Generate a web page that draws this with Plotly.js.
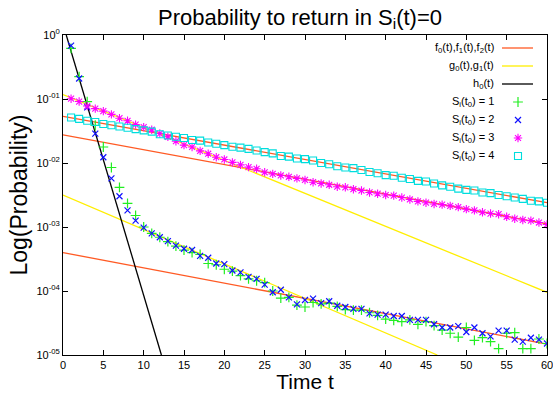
<!DOCTYPE html>
<html>
<head>
<meta charset="utf-8">
<script src="https://cdn.plot.ly/plotly-3.0.1.min.js"></script>
<style>html,body{margin:0;padding:0;background:#fff}#chart{width:553px;height:393px}</style>
</head>
<body>
<div id="chart"></div>
<script>
// ---- data (log10 of probability) ----
const tPoints = Array.from({length: 60}, (_, i) => i + 1);

const s1Log10 = [-0.21,-0.65,-1.04,-1.41,-1.75,-2.07,-2.38,-2.63,-2.82,-3.00,
  -3.10,-3.16,-3.23,-3.30,-3.36,-3.40,-3.43,-3.57,-3.59,-3.66,
  -3.69,-3.76,-3.81,-3.84,-3.87,-4.00,-4.11,-4.10,-4.22,-4.25,
  -4.18,-4.20,-4.19,-4.24,-4.29,-4.30,-4.30,-4.34,-4.38,-4.44,
  -4.46,-4.48,-4.45,-4.52,-4.48,-4.54,-4.61,-4.66,-4.72,-4.57,
  -4.77,-4.73,-4.79,-4.90,-4.66,-4.65,-4.90,-4.90,-4.75,-4.82];

const s2Log10 = [-0.167,-0.68,-1.13,-1.54,-1.91,-2.24,-2.52,-2.74,-2.90,-3.01,
  -3.10,-3.16,-3.22,-3.29,-3.34,-3.36,-3.45,-3.48,-3.57,-3.58,
  -3.68,-3.71,-3.78,-3.81,-3.90,-4.02,-3.98,-4.10,-4.21,-4.14,
  -4.12,-4.19,-4.16,-4.23,-4.25,-4.28,-4.28,-4.35,-4.37,-4.37,
  -4.39,-4.39,-4.45,-4.45,-4.45,-4.52,-4.57,-4.57,-4.55,-4.64,
  -4.57,-4.66,-4.71,-4.62,-4.62,-4.76,-4.79,-4.73,-4.76,-4.82];

const s3Log10 = [-0.995,-1.04,-1.11,-1.15,-1.19,-1.24,-1.30,-1.34,-1.40,-1.44,
  -1.48,-1.54,-1.59,-1.66,-1.72,-1.75,-1.81,-1.855,-1.91,-1.945,
  -1.99,-2.03,-2.065,-2.09,-2.145,-2.17,-2.195,-2.215,-2.24,-2.265,
  -2.30,-2.32,-2.34,-2.37,-2.38,-2.41,-2.43,-2.46,-2.48,-2.50,
  -2.51,-2.54,-2.57,-2.60,-2.62,-2.64,-2.65,-2.67,-2.69,-2.72,
  -2.74,-2.77,-2.79,-2.80,-2.84,-2.87,-2.89,-2.90,-2.93,-2.96];

const s4Log10 = [-1.29,-1.31,-1.34,-1.36,-1.39,-1.41,-1.43,-1.45,-1.47,-1.49,
  -1.51,-1.55,-1.57,-1.59,-1.61,-1.64,-1.65,-1.68,-1.70,-1.72,
  -1.745,-1.76,-1.78,-1.805,-1.83,-1.85,-1.89,-1.90,-1.93,-1.94,
  -1.96,-2.00,-2.02,-2.05,-2.07,-2.08,-2.11,-2.14,-2.16,-2.19,
  -2.20,-2.23,-2.25,-2.28,-2.29,-2.32,-2.35,-2.37,-2.40,-2.42,
  -2.43,-2.46,-2.47,-2.50,-2.52,-2.54,-2.56,-2.59,-2.60,-2.62];

// fitted lines: end points (t, log10 p)
const f0T = [0, 60], f0Log10 = [-3.40, -4.83];
const f1T = [0, 60], f1Log10 = [-1.56, -2.95];
const f2T = [0, 60], f2Log10 = [-1.27, -2.62];
const g0T = [0, 60], g0Log10 = [-0.93, -4.02];
const g1T = [0, 46.4], g1Log10 = [-2.50, -5.00];
const h0T = [0.4, 12.2], h0Log10 = [0.0, -5.00];

const xTicks = [0,5,10,15,20,25,30,35,40,45,50,55,60];
const yTickVals = [1, 0.1, 0.01, 0.001, 0.0001, 0.00001];
const yTickText = ['10<sup>0</sup>','10<sup>-01</sup>','10<sup>-02</sup>','10<sup>-03</sup>','10<sup>-04</sup>','10<sup>-05</sup>'];

const legendLabels = ['f<sub>0</sub>(t),f<sub>1</sub>(t),f<sub>2</sub>(t)',
  'g<sub>0</sub>(t),g<sub>1</sub>(t)', 'h<sub>0</sub>(t)',
  'S<sub>i</sub>(t<sub>0</sub>) = 1','S<sub>i</sub>(t<sub>0</sub>) = 2',
  'S<sub>i</sub>(t<sub>0</sub>) = 3','S<sub>i</sub>(t<sub>0</sub>) = 4'];

// ---- styles ----
const FONT = 'Liberation Sans, Arial, Helvetica, sans-serif';
const cF = '#ff5a24', cG = '#ffee00', cH = '#000000';
const cS1 = '#22ee22', cS2 = '#1010ff', cS3 = '#ff00ff', cS4 = '#00dddd';
const pow = a => a.map(v => Math.pow(10, v));

function lineTrace(t, l, color) {
  return {x: t, y: pow(l), mode: 'lines', line: {color: color, width: 1.3}, hoverinfo: 'skip', showlegend: false};
}
const mk = {
  s1: {symbol: 'cross-thin', size: 7, color: cS1, line: {color: cS1, width: 1.2}},
  s2: {symbol: 'x-thin', size: 6, color: cS2, line: {color: cS2, width: 1.2}},
  s3: {symbol: 'asterisk', size: 7, color: cS3, line: {color: cS3, width: 1.1}},
  s4: {symbol: 'square-open', size: 7, color: cS4, line: {color: cS4, width: 1.1}}
};
function ptTrace(l, m) {
  return {x: tPoints, y: pow(l), mode: 'markers', marker: m, showlegend: false};
}

const traces = [
  lineTrace(f0T, f0Log10, cF), lineTrace(f1T, f1Log10, cF), lineTrace(f2T, f2Log10, cF),
  lineTrace(g0T, g0Log10, cG), lineTrace(g1T, g1Log10, cG),
  lineTrace(h0T, h0Log10, cH),
  ptTrace(s1Log10, mk.s1), ptTrace(s2Log10, mk.s2), ptTrace(s3Log10, mk.s3), ptTrace(s4Log10, mk.s4)
];

// ---- manual gnuplot-style legend (text right, sample on the right) ----
const L = 63, R = 547, T = 35, B = 355;
const px = x => (x - L) / (R - L);
const py = y => (B - y) / (B - T);
const rowY = [48, 66, 84, 102, 120, 138, 156];
const sampleColors = [cF, cG, cH];
for (let i = 0; i < 3; i++) {
  traces.push({x: [px(502), px(533)], y: [py(rowY[i]), py(rowY[i])], xaxis: 'x2', yaxis: 'y2',
    mode: 'lines', line: {color: sampleColors[i], width: 1.3}, showlegend: false, hoverinfo: 'skip'});
}
const mks = [mk.s1, mk.s2, mk.s3, mk.s4];
for (let i = 0; i < 4; i++) {
  traces.push({x: [px(518)], y: [py(rowY[i + 3])], xaxis: 'x2', yaxis: 'y2',
    mode: 'markers', marker: mks[i], showlegend: false, hoverinfo: 'skip'});
}
const annotations = legendLabels.map((txt, i) => ({
  text: txt, xref: 'paper', yref: 'paper', x: px(496), y: py(rowY[i]),
  xanchor: 'right', yanchor: 'middle', showarrow: false,
  font: {family: FONT, size: 11, color: '#000'}
}));

const layout = {
  width: 553, height: 393,
  margin: {l: L, r: 553 - R, t: T, b: 393 - B},
  paper_bgcolor: '#fff', plot_bgcolor: '#fff',
  showlegend: false,
  font: {family: FONT, color: '#000'},
  title: {text: 'Probability to return in S<sub>i</sub>(t)=0', font: {family: FONT, size: 22, color: '#000'},
    x: 300 / 553, xanchor: 'center', xref: 'container', y: 1 - 17 / 393, yanchor: 'middle', yref: 'container'},
  xaxis: {
    range: [0, 60], tickvals: xTicks, ticktext: xTicks.map(String),
    ticks: 'inside', ticklen: 5, tickwidth: 1, tickcolor: '#000',
    showline: true, linecolor: '#000', linewidth: 1, mirror: 'ticks',
    showgrid: false, zeroline: false, ticklabeloverflow: 'allow',
    tickfont: {family: FONT, size: 11, color: '#000'},
    title: {text: 'Time t', font: {family: FONT, size: 21, color: '#000'}, standoff: 5},
    automargin: false
  },
  yaxis: {
    type: 'log', range: [-5, 0], tickvals: yTickVals, ticktext: yTickText,
    ticks: 'inside', ticklen: 5, tickwidth: 1, tickcolor: '#000',
    showline: true, linecolor: '#000', linewidth: 1, mirror: 'ticks',
    showgrid: false, zeroline: false, ticklabeloverflow: 'allow',
    tickfont: {family: FONT, size: 11, color: '#000'},
    title: {text: 'Log(Probability)', font: {family: FONT, size: 23, color: '#000'}, standoff: 2},
    automargin: false
  },
  xaxis2: {overlaying: 'x', range: [0, 1], visible: false, fixedrange: true},
  yaxis2: {overlaying: 'y', range: [0, 1], visible: false, fixedrange: true},
  annotations: annotations
};

Plotly.newPlot('chart', traces, layout, {staticPlot: true, displayModeBar: false});
</script>
</body>
</html>
